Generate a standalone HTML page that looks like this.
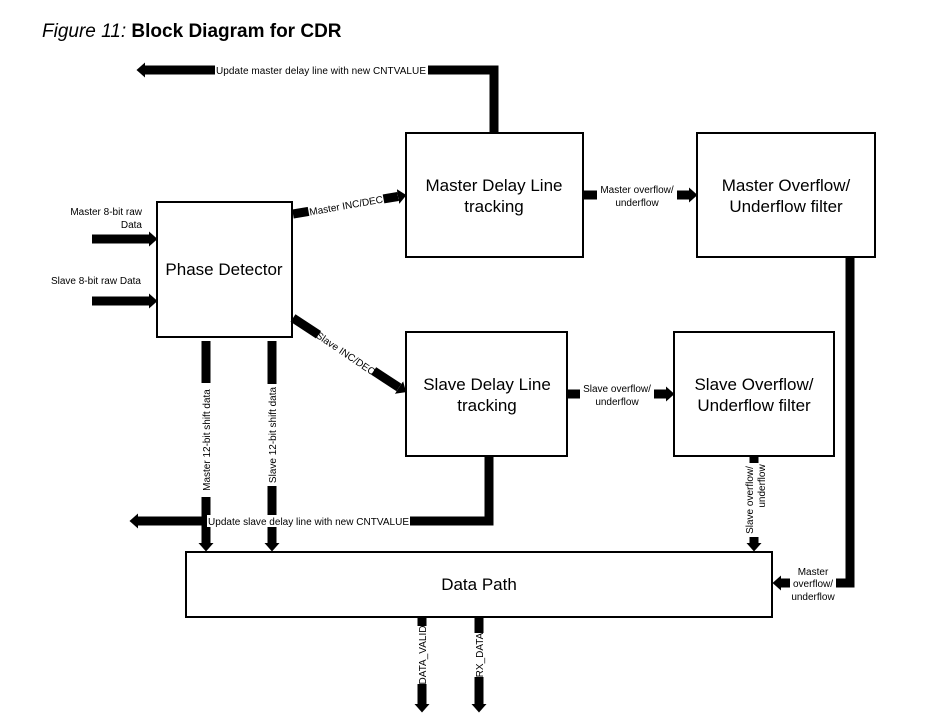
<!DOCTYPE html>
<html><head><meta charset="utf-8"><style>
body{margin:0;background:#fff;width:927px;height:715px;overflow:hidden}
svg{display:block}
text{font-family:"Liberation Sans",sans-serif;fill:#000}
</style></head><body>
<svg width="927" height="715" viewBox="0 0 927 715" xmlns="http://www.w3.org/2000/svg">
<defs>
<marker id="ah" markerWidth="9" markerHeight="16" refX="0" refY="8" orient="auto" markerUnits="userSpaceOnUse">
<path d="M0,0.5 L8.5,8 L0,15.5 Z" fill="#000"/></marker>
</defs>
<text x="42" y="37" font-size="19" font-style="italic" fill="#222">Figure 11: <tspan font-weight="bold" font-style="normal">Block Diagram for CDR</tspan></text>

<g fill="#fff" stroke="#000" stroke-width="2">
<rect x="157" y="202" width="135" height="135"/>
<rect x="406" y="133" width="177" height="124"/>
<rect x="697" y="133" width="178" height="124"/>
<rect x="406" y="332" width="161" height="124"/>
<rect x="674" y="332" width="160" height="124"/>
<rect x="186" y="552" width="586" height="65"/>
</g>

<g stroke="#000" stroke-width="9" fill="none">
<polyline points="494,133 494,70 145,70" marker-end="url(#ah)"/>
<line x1="92" y1="239" x2="149" y2="239" marker-end="url(#ah)"/>
<line x1="92" y1="301" x2="149" y2="301" marker-end="url(#ah)"/>
<line x1="293" y1="214" x2="398" y2="196.5" marker-end="url(#ah)"/>
<line x1="293" y1="318" x2="399" y2="387.5" marker-end="url(#ah)"/>
<line x1="584" y1="195" x2="689" y2="195" marker-end="url(#ah)"/>
<line x1="568" y1="394" x2="666" y2="394" marker-end="url(#ah)"/>
<line x1="206" y1="341" x2="206" y2="543" marker-end="url(#ah)"/>
<line x1="272" y1="341" x2="272" y2="543" marker-end="url(#ah)"/>
<polyline points="489,456 489,521 138,521" marker-end="url(#ah)"/>
<line x1="754" y1="456" x2="754" y2="543" marker-end="url(#ah)"/>
<polyline points="850,258 850,583 781,583" marker-end="url(#ah)"/>
<line x1="422" y1="618" x2="422" y2="704" marker-end="url(#ah)"/>
<line x1="479" y1="618" x2="479" y2="704" marker-end="url(#ah)"/>
</g>

<g font-size="10">
<rect x="215" y="64" width="213" height="12" fill="#fff"/>
<text x="216" y="74" textLength="210">Update master delay line with new CNTVALUE</text>
<rect x="207" y="515" width="203" height="12" fill="#fff"/>
<text x="208" y="525" textLength="201">Update slave delay line with new CNTVALUE</text>
<text x="142" y="215" text-anchor="end">Master 8-bit raw</text>
<text x="142" y="228" text-anchor="end">Data</text>
<text x="141" y="284" text-anchor="end">Slave 8-bit raw Data</text>
<g transform="translate(346,205) rotate(-10)"><rect x="-38" y="-7" width="76" height="13" fill="#fff"/><text x="0" y="4" text-anchor="middle">Master INC/DEC</text></g>
<g transform="translate(346,353) rotate(34)"><rect x="-33" y="-7" width="66" height="13" fill="#fff"/><text x="0" y="4" text-anchor="middle">Slave INC/DEC</text></g>
<rect x="597" y="183" width="80" height="26" fill="#fff"/>
<text x="637" y="193" text-anchor="middle">Master overflow/</text>
<text x="637" y="206" text-anchor="middle">underflow</text>
<rect x="580" y="382" width="74" height="26" fill="#fff"/>
<text x="617" y="392" text-anchor="middle">Slave overflow/</text>
<text x="617" y="405" text-anchor="middle">underflow</text>
<rect x="790" y="565" width="46" height="38" fill="#fff"/>
<text x="813" y="575" text-anchor="middle">Master</text>
<text x="813" y="587" text-anchor="middle">overflow/</text>
<text x="813" y="600" text-anchor="middle">underflow</text>
<g transform="translate(206,440) rotate(-90)"><rect x="-57" y="-6" width="114" height="12" fill="#fff"/><text x="0" y="4" text-anchor="middle">Master 12-bit shift data</text></g>
<g transform="translate(272,435) rotate(-90)"><rect x="-51" y="-6" width="102" height="12" fill="#fff"/><text x="0" y="4" text-anchor="middle">Slave 12-bit shift data</text></g>
<g transform="translate(754,500) rotate(-90)"><rect x="-37" y="-12" width="74" height="25" fill="#fff"/><text x="0" y="-1" text-anchor="middle">Slave overflow/</text><text x="14" y="11" text-anchor="middle">underflow</text></g>
<g transform="translate(422,655) rotate(-90)"><rect x="-29" y="-6" width="58" height="12" fill="#fff"/><text x="0" y="4" text-anchor="middle">DATA_VALID</text></g>
<g transform="translate(479,655) rotate(-90)"><rect x="-22" y="-6" width="44" height="12" fill="#fff"/><text x="0" y="4" text-anchor="middle">RX_DATA</text></g>
</g>

<g font-size="17" text-anchor="middle">
<text x="224" y="275">Phase Detector</text>
<text x="494" y="191">Master Delay Line</text>
<text x="494" y="212">tracking</text>
<text x="786" y="191">Master Overflow/</text>
<text x="786" y="212">Underflow filter</text>
<text x="487" y="390">Slave Delay Line</text>
<text x="487" y="411">tracking</text>
<text x="754" y="390">Slave Overflow/</text>
<text x="754" y="411">Underflow filter</text>
<text x="479" y="590">Data Path</text>
</g>
</svg>
</body></html>
